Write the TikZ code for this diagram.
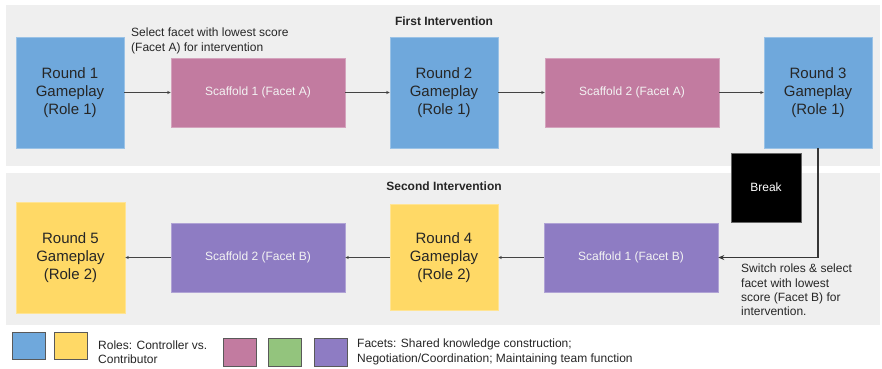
\documentclass[tikz,border=0pt]{standalone}
\usepackage{fontspec}
\setmainfont{Liberation Sans}
\usetikzlibrary{arrows.meta}
\definecolor{panel}{HTML}{EFEFEF}
\definecolor{roleblue}{HTML}{6FA8DC}
\definecolor{roleyellow}{HTML}{FFD966}
\definecolor{facetpink}{HTML}{C27BA0}
\definecolor{facetgreen}{HTML}{93C47D}
\definecolor{facetpurple}{HTML}{8E7CC3}
\definecolor{linegray}{HTML}{434343}
\definecolor{sctext}{HTML}{F3F3F3}
\tikzset{
  x=1pt, y=-1pt,
  roundbox/.style={inner sep=0pt, align=center, minimum width=108pt, minimum height=111pt,
    font=\fontsize{15}{18}\selectfont, text=black!85},
  bluebox/.style={roundbox, fill=roleblue, draw=roleblue!70!white, line width=0.5pt},
  yellowbox/.style={roundbox, fill=roleyellow, draw=roleyellow!70!white, line width=0.5pt},
  scaffbox/.style={inner sep=0pt, minimum width=174pt, minimum height=69pt,
    font=\fontsize{12}{14}\selectfont, text=sctext, line width=0.5pt},
  pinkbox/.style={scaffbox, fill=facetpink, draw=facetpink!70!white},
  purplebox/.style={scaffbox, fill=facetpurple, draw=facetpurple!70!white},
  breakbox/.style={inner sep=0pt, minimum width=70pt, minimum height=69pt, fill=black,
    draw=black!60, line width=0.5pt, text=white, font=\fontsize{12}{14}\selectfont},
  title/.style={inner sep=0pt, font=\fontsize{12}{14}\selectfont\bfseries, text=black!85},
  note/.style={inner sep=0pt, align=left, anchor=west, font=\fontsize{12}{14.3}\selectfont, text=black!85},
  legsq/.style={inner sep=0pt, minimum width=33pt, draw=black!65, line width=0.7pt},
  arr/.style={draw=linegray, line width=0.7pt, -{Stealth[length=3.5pt,width=3pt]}},
  bigarr/.style={draw=linegray!80!black, line width=1.2pt, -{Stealth[length=6pt,width=5pt]}},
}
\begin{document}
\begin{tikzpicture}
\useasboundingbox (0,0) rectangle (882,368);
\fill[white] (0,0) rectangle (882,368);
% panels
\fill[panel] (6,5) rectangle (880,166);
\fill[panel] (6,173) rectangle (880,325);
% titles
\node[title] (t1) at (444,21) {First Intervention};
\node[title] (t2) at (444,186) {Second Intervention};
% row 1
\node[bluebox] (r1) at (70,92.5) {Round 1\\Gameplay\\(Role 1)};
\node[pinkbox] (s1a) at (258,92.5) {Scaffold 1 (Facet A)};
\node[bluebox] (r2) at (444,92.5) {Round 2\\Gameplay\\(Role 1)};
\node[pinkbox] (s2a) at (632,92.5) {Scaffold 2 (Facet A)};
\node[bluebox] (r3) at (818,92.5) {Round 3\\Gameplay\\(Role 1)};
\node[note] (n1) at (131,41) {Select facet with lowest score\\(Facet A) for intervention};
% break
\node[breakbox] (brk) at (766,187.5) {Break};
% row 2
\node[purplebox] (s1b) at (631,257.5) {Scaffold 1 (Facet B)};
\node[yellowbox, minimum height=106pt] (r4) at (444,257.5) {Round 4\\Gameplay\\(Role 2)};
\node[purplebox] (s2b) at (258,257.5) {Scaffold 2 (Facet B)};
\node[yellowbox, minimum width=109pt] (r5) at (70.5,257.5) {Round 5\\Gameplay\\(Role 2)};
\node[note] (n2) at (741,290) {Switch roles \& select\\facet with lowest\\score (Facet B) for\\intervention.};
% connectors
\draw[arr] (r1) -- (s1a);
\draw[arr] (s1a) -- (r2);
\draw[arr] (r2) -- (s2a);
\draw[arr] (s2a) -- (r3);
\draw[bigarr] (r3.south) |- (s1b.east);
\draw[arr] (s1b) -- (r4);
\draw[arr] (r4) -- (s2b);
\draw[arr] (s2b) -- (r5);
% legend
\node[legsq, fill=roleblue, minimum height=27pt] (lb) at (28.5,345.5) {};
\node[legsq, fill=roleyellow, minimum height=27pt] (ly) at (70.5,345.5) {};
\node[note] (lrt) at (98,352) {Roles: Controller vs.\\Contributor};
\node[legsq, fill=facetpink, minimum height=28pt] (lp) at (239.5,352) {};
\node[legsq, fill=facetgreen, minimum height=28pt] (lg) at (284.5,352) {};
\node[legsq, fill=facetpurple, minimum height=28pt] (lu) at (330.5,352) {};
\node[note] (lft) at (357,352) {Facets: Shared knowledge construction;\\Negotiation/Coordination; Maintaining team function};
\end{tikzpicture}
\end{document}
